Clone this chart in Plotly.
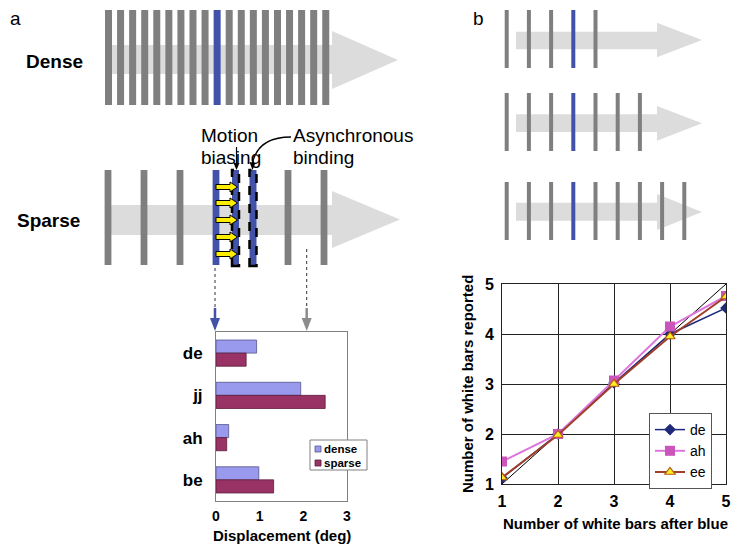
import plotly.graph_objects as go

W, H = 737, 548
FONT = "Liberation Sans, Arial, sans-serif"

# ---------------- data ----------------
subjects = ["de", "jj", "ah", "be"]
dense_disp = [0.93, 1.94, 0.29, 0.98]
sparse_disp = [0.69, 2.50, 0.245, 1.32]
disp_ticks = [0, 1, 2, 3]

white_after = [1, 2, 3, 4, 5]
de_reported = [1.12, 2.00, 3.02, 4.00, 4.52]
ah_reported = [1.45, 2.00, 3.07, 4.15, 4.76]
ee_reported = [1.13, 1.98, 3.00, 3.95, 4.75]
veridical = [1, 2, 3, 4, 5]

DENSE_C = "#9999ee"
SPARSE_C = "#993366"

# ---------------- helpers (pixel -> paper) ----------------
def px(x):
    return x / W

def py(y):
    return 1 - y / H

def path(points, close=True):
    s = "M " + " L ".join(f"{px(x):.5f},{py(y):.5f}" for x, y in points)
    return s + (" Z" if close else "")

shapes = []

def rect(x0, y0, x1, y1, fill, line=None, lw=0, dash="solid"):
    shapes.append(dict(type="rect", xref="paper", yref="paper",
                       x0=px(x0), x1=px(x1), y0=py(y1), y1=py(y0),
                       fillcolor=fill,
                       line=dict(color=line or fill, width=lw, dash=dash) if lw else dict(width=0)))

def poly(points, fill, line=None, lw=0):
    shapes.append(dict(type="path", xref="paper", yref="paper", path=path(points),
                       fillcolor=fill,
                       line=dict(color=line, width=lw) if lw else dict(width=0)))

def seg(x0, y0, x1, y1, color, lw=1, dash="solid"):
    shapes.append(dict(type="line", xref="paper", yref="paper",
                       x0=px(x0), y0=py(y0), x1=px(x1), y1=py(y1),
                       line=dict(color=color, width=lw, dash=dash)))

def big_arrow(x0, xb, xt, ys0, ys1, yh0, yh1):
    ym = (yh0 + yh1) / 2
    poly([(x0, ys0), (xb, ys0), (xb, yh0), (xt, ym), (xb, yh1), (xb, ys1), (x0, ys1)],
         "#dcdcdc")

GREY = "#7f7f7f"
BLUE = "#4152a8"

# ---------------- panel a illustrations ----------------
# Dense row
big_arrow(110, 332, 398, 45, 74, 31, 89)
for i in range(19):
    cx = 108.5 + i * 12.07
    rect(cx - 3.5, 10, cx + 3.5, 105, BLUE if i == 9 else GREY)

# Sparse row
big_arrow(110, 332, 400, 205, 235, 191, 248)
for i, cx in enumerate([108, 144, 180, 216, 288, 324]):
    rect(cx - 3.4, 170, cx + 3.4, 265, BLUE if i == 3 else GREY)
# displaced (dashed) bars
for cx in [235.5, 253]:
    rect(cx - 3.5, 170, cx + 3.5, 266, BLUE, line="black", lw=2.5, dash="dash")
# yellow motion arrows
for yy in [187, 203, 220, 237, 254]:
    poly([(216, yy - 2.5), (230, yy - 2.5), (230, yy - 5), (237.5, yy),
          (230, yy + 5), (230, yy + 2.5), (216, yy + 2.5)],
         "#ffee00", line="black", lw=1)

# callout lines
seg(236.5, 147, 236.5, 164, "black", 1.2)
poly([(233.5, 163), (239.5, 163), (236.5, 170)], "black")
shapes.append(dict(type="path", xref="paper", yref="paper",
                   path=f"M {px(291):.5f},{py(137):.5f} Q {px(258):.5f},{py(137):.5f} {px(252.5):.5f},{py(163):.5f}",
                   line=dict(color="black", width=1.3)))
poly([(249.5, 162), (255.5, 163), (252.5, 170)], "black")

# dotted leader lines to bar chart
seg(215, 268, 215, 309, "#333333", 1, "dot")
seg(215, 308, 215, 319, BLUE, 2.5)
poly([(210, 318), (220, 318), (215, 331)], BLUE)
seg(306.7, 249, 306.7, 309, "#333333", 1, "dot")
seg(306.7, 308, 306.7, 319, "#8c8c8c", 2.5)
poly([(301.7, 318), (311.7, 318), (306.7, 331)], "#8c8c8c")

# ---------------- panel b illustrations ----------------
rows_b = [  # (shaft y0, y1, head y0, y1, bar y0, y1, n bars)
    (31.7, 49.3, 22.7, 57.3, 10, 68, 5),
    (114.3, 132, 106, 140.7, 93, 151, 7),
    (202.7, 220.7, 194, 230, 182, 240, 9),
]
for ys0, ys1, yh0, yh1, yb0, yb1, nb in rows_b:
    big_arrow(516, 657, 702, ys0, ys1, yh0, yh1)
    for i in range(nb):
        cx = 506.7 + i * 22.2
        rect(cx - 2, yb0, cx + 2, yb1, BLUE if i == 3 else GREY)

# ---------------- annotations ----------------
ann = []

def text(x, y, s, size, bold=False, xa="left", ya="middle", color="black", angle=0):
    ann.append(dict(x=px(x), y=py(y), xref="paper", yref="paper", text=s,
                    showarrow=False, xanchor=xa, yanchor=ya, textangle=angle,
                    borderpad=0,
                    font=dict(family=FONT, size=size, color=color,
                              weight="bold" if bold else "normal")))

text(9, 18, "a", 19)
text(472, 18, "b", 19)
text(25, 61, "Dense", 19, bold=True)
text(16, 220, "Sparse", 19, bold=True)
text(200, 135, "Motion", 19)
text(200, 158, "biasing", 19)
text(292, 135, "Asynchronous", 19)
text(292, 158, "binding", 19)

# axis titles
text(282, 535, "Displacement (deg)", 15, bold=True, xa="center")
text(615, 523, "Number of white bars after blue", 15, bold=True, xa="center")
text(467, 384, "Number of white bars reported", 15, bold=True, xa="center", angle=-90)

# legend for bar chart (drawn in place)
rect(310, 440, 367, 470, "white", line="#808080", lw=1)
rect(315, 446, 321, 452, DENSE_C, line="#55558a", lw=0.8)
rect(315, 460, 321, 466, SPARSE_C, line="#5a1a3a", lw=0.8)
text(323, 449, "dense", 11.5, bold=True)
text(323, 463, "sparse", 11.5, bold=True)

# ---------------- traces ----------------
fig = go.Figure()

fig.add_trace(go.Bar(y=subjects, x=dense_disp, orientation="h", name="dense",
                     marker=dict(color=DENSE_C, line=dict(color="#55558a", width=0.8)),
                     xaxis="x", yaxis="y", showlegend=False))
fig.add_trace(go.Bar(y=subjects, x=sparse_disp, orientation="h", name="sparse",
                     marker=dict(color=SPARSE_C, line=dict(color="#5a1a3a", width=0.8)),
                     xaxis="x", yaxis="y", showlegend=False))

fig.add_trace(go.Scatter(x=white_after, y=veridical, mode="lines", showlegend=False,
                         line=dict(color="black", width=1), xaxis="x2", yaxis="y2",
                         hoverinfo="skip"))
fig.add_trace(go.Scatter(x=white_after, y=de_reported, mode="lines+markers", name="de",
                         line=dict(color="#1f2a7a", width=1.5),
                         marker=dict(symbol="diamond", size=9, color="#1f2a7a"),
                         xaxis="x2", yaxis="y2"))
fig.add_trace(go.Scatter(x=white_after, y=ah_reported, mode="lines+markers", name="ah",
                         line=dict(color="#dd77dd", width=2),
                         marker=dict(symbol="square", size=10, color="#cc55bb"),
                         xaxis="x2", yaxis="y2"))
fig.add_trace(go.Scatter(x=white_after, y=ee_reported, mode="lines+markers", name="ee",
                         line=dict(color="#a0402a", width=2),
                         marker=dict(symbol="triangle-up", size=9, color="#ffee22",
                                     line=dict(color="#b05a10", width=1.2)),
                         xaxis="x2", yaxis="y2"))

fig.update_layout(
    width=W, height=H, autosize=False,
    margin=dict(l=0, r=0, t=0, b=0, pad=0),
    paper_bgcolor="white", plot_bgcolor="white",
    font=dict(family=FONT, color="black"),
    barmode="group", bargap=0.38, bargroupgap=0,
    shapes=shapes, annotations=ann,
    xaxis=dict(domain=[px(216), px(347)], range=[0, 3], tickvals=disp_ticks,
               showgrid=False, zeroline=False, showline=True, mirror=True,
               linecolor="#808080", linewidth=1,
               ticks="outside", ticklen=2, tickcolor="rgba(0,0,0,0)",
               tickfont=dict(size=14, weight="bold"), automargin=False,
               anchor="y", fixedrange=True),
    yaxis=dict(domain=[py(501), py(332)], autorange="reversed",
               categoryorder="array", categoryarray=subjects,
               showgrid=False, zeroline=False, showline=True, mirror=True,
               linecolor="#808080", linewidth=1,
               ticks="outside", ticklen=9, tickcolor="rgba(0,0,0,0)",
               tickfont=dict(size=17, weight="bold"), automargin=False,
               anchor="x", fixedrange=True),
    xaxis2=dict(domain=[px(502), px(726)], range=[1, 5], tickvals=white_after,
                showgrid=True, gridcolor="#222222", gridwidth=1, zeroline=False,
                showline=True, mirror=True, linecolor="#222222", linewidth=1,
                ticks="outside", ticklen=3, tickcolor="rgba(0,0,0,0)",
                tickfont=dict(size=16, weight="bold"), automargin=False,
                anchor="y2", fixedrange=True),
    yaxis2=dict(domain=[py(484), py(284)], range=[1, 5], tickvals=veridical,
                showgrid=True, gridcolor="#222222", gridwidth=1, zeroline=False,
                showline=True, mirror=True, linecolor="#222222", linewidth=1,
                ticks="outside", ticklen=4, tickcolor="rgba(0,0,0,0)",
                tickfont=dict(size=16, weight="bold"), automargin=False,
                anchor="x2", fixedrange=True),
    legend=dict(x=px(649), y=py(413), xanchor="left", yanchor="top",
                bgcolor="white", bordercolor="#555555", borderwidth=1,
                font=dict(size=14), tracegroupgap=0, traceorder="normal"),
)

fig.write_html("out.html", config={"displayModeBar": False},
               post_script="document.body.style.margin='0';document.body.style.overflow='hidden';")
